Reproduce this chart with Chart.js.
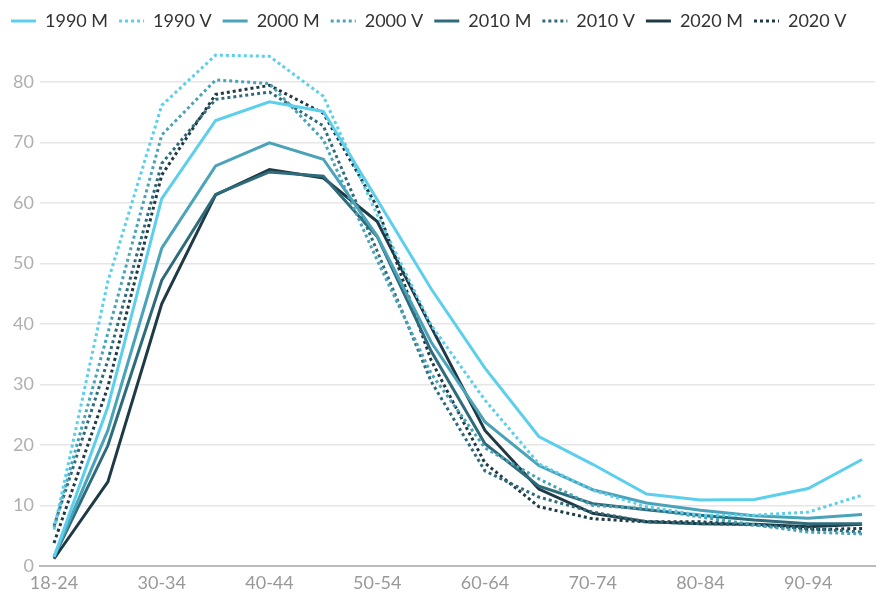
<!DOCTYPE html>
<html>
<head>
<meta charset="utf-8">
<script src="https://cdn.jsdelivr.net/npm/chart.js@4/dist/chart.umd.min.js"></script>
<style>
  html, body { margin: 0; padding: 0; background: #fff; }
  #wrap { width: 882px; height: 597px; }
</style>
</head>
<body>
<div id="wrap"><canvas id="chart" width="882" height="597"></canvas></div>
<script>
const ageGroups = ["18-24", "25-29", "30-34", "35-39", "40-44", "45-49", "50-54", "55-59",
    "60-64", "65-69", "70-74", "75-79", "80-84", "85-89", "90-94", "95+"];

const m1990 = [1.5, 26.3, 60.7, 73.6, 76.7, 75.1, 60.5, 45.8, 32.7, 21.4, 16.8, 11.9, 10.9, 11.0, 12.8, 17.6];
const v1990 = [6.0, 47.0, 76.1, 84.4, 84.2, 77.6, 58.0, 39.8, 27.4, 16.9, 12.5, 9.8, 8.4, 8.4, 8.9, 11.7];
const m2000 = [1.5, 22.4, 52.5, 66.1, 69.9, 67.2, 54.5, 37.0, 23.8, 16.6, 12.6, 10.4, 9.2, 8.3, 7.9, 8.5];
const v2000 = [6.3, 38.5, 71.2, 80.3, 79.7, 70.4, 50.5, 31.8, 19.5, 14.4, 10.0, 9.5, 8.1, 6.8, 5.6, 5.3];
const m2010 = [1.5, 19.9, 47.2, 61.4, 65.1, 64.4, 54.4, 35.5, 20.2, 13.2, 10.3, 9.3, 8.4, 7.6, 7.0, 7.0];
const v2010 = [6.6, 34.0, 66.5, 77.1, 78.3, 72.7, 52.0, 30.5, 15.7, 11.4, 8.9, 7.3, 7.0, 6.8, 6.2, 5.6];
const m2020 = [1.2, 13.9, 43.3, 61.3, 65.5, 64.1, 56.9, 39.5, 22.4, 12.7, 8.7, 7.3, 7.0, 6.9, 6.5, 6.9];
const v2020 = [3.8, 29.6, 64.6, 77.9, 79.4, 74.8, 59.3, 34.0, 17.0, 9.8, 7.8, 7.3, 7.3, 6.8, 6.0, 6.2];

const seriesNames = ["1990 M", "1990 V", "2000 M", "2000 V", "2010 M", "2010 V", "2020 M", "2020 V"];
const seriesValues = [m1990, v1990, m2000, v2000, m2010, v2010, m2020, v2020];
const seriesColors = ["#5bcfec", "#5bcfec", "#4aa3b8", "#4aa3b8", "#2e6b7b", "#2e6b7b", "#1f3a45", "#1f3a45"];

const yTicks = [0, 10, 20, 30, 40, 50, 60, 70, 80];
const xTickIdx = [0, 2, 4, 6, 8, 10, 12, 14];

const dotPattern = [3, 3];

const toPoints = (values) => values.map((v, i) => ({ x: i, y: v }));

const datasets = seriesNames.map((name, i) => {
    const dotted = name.endsWith("V");
    return {
        label: name,
        data: toPoints(seriesValues[i]),
        borderColor: seriesColors[i],
        backgroundColor: seriesColors[i],
        borderWidth: 3,
        borderDash: dotted ? dotPattern : [],
        pointRadius: 0,
        pointHoverRadius: 0,
        tension: 0,
        fill: false,
    };
});

Chart.defaults.font.family = "Lato, 'Open Sans', sans-serif";

// legend samples: short line, dotted for V
const makeLegendLabels = (chart) => {
    const items = Chart.defaults.plugins.legend.labels.generateLabels(chart);
    items.forEach((item) => {
        const ds = chart.data.datasets[item.datasetIndex];
        item.lineWidth = 3;
        item.strokeStyle = ds.borderColor;
        item.lineDash = ds.borderDash;
        item.pointStyle = "line";
    });
    return items;
};

const ctx = document.getElementById("chart").getContext("2d");
new Chart(ctx, {
    type: "line",
    data: { datasets: datasets },
    options: {
        responsive: false,
        animation: false,
        layout: { padding: { left: 0, right: 7, top: 1, bottom: 0 } },
        plugins: {
            tooltip: { enabled: false },
            legend: {
                position: "top",
                align: "start",
                labels: {
                    usePointStyle: true,
                    pointStyle: "line",
                    pointStyleWidth: 25,
                    boxHeight: 3,
                    padding: 11,
                    color: "#333333",
                    font: { size: 18 },
                    generateLabels: makeLegendLabels,
                },
            },
        },
        scales: {
            x: {
                type: "linear",
                min: -0.26,
                max: 15.24,
                afterBuildTicks: (axis) => {
                    axis.ticks = xTickIdx.map((v) => ({ value: v }));
                },
                afterFit: (axis) => { axis.height = 31; },
                grid: { color: "rgba(0,0,0,0)", drawTicks: false },
                border: { color: "#bbbbbb", width: 2 },
                ticks: {
                    autoSkip: false,
                    maxRotation: 0,
                    padding: 6,
                    color: "#999999",
                    font: { size: 18 },
                    callback: (value) => ageGroups[value],
                },
            },
            y: {
                min: 0,
                max: 86.9,
                afterBuildTicks: (axis) => {
                    axis.ticks = yTicks.map((v) => ({ value: v }));
                },
                afterFit: (axis) => { axis.width = 40; },
                grid: { color: "#e6e6e6", lineWidth: 1.5, drawTicks: false },
                border: { display: false },
                ticks: {
                    padding: 6,
                    color: "#b0b0b0",
                    font: { size: 18 },
                },
            },
        },
    },
});
</script>
</body>
</html>
